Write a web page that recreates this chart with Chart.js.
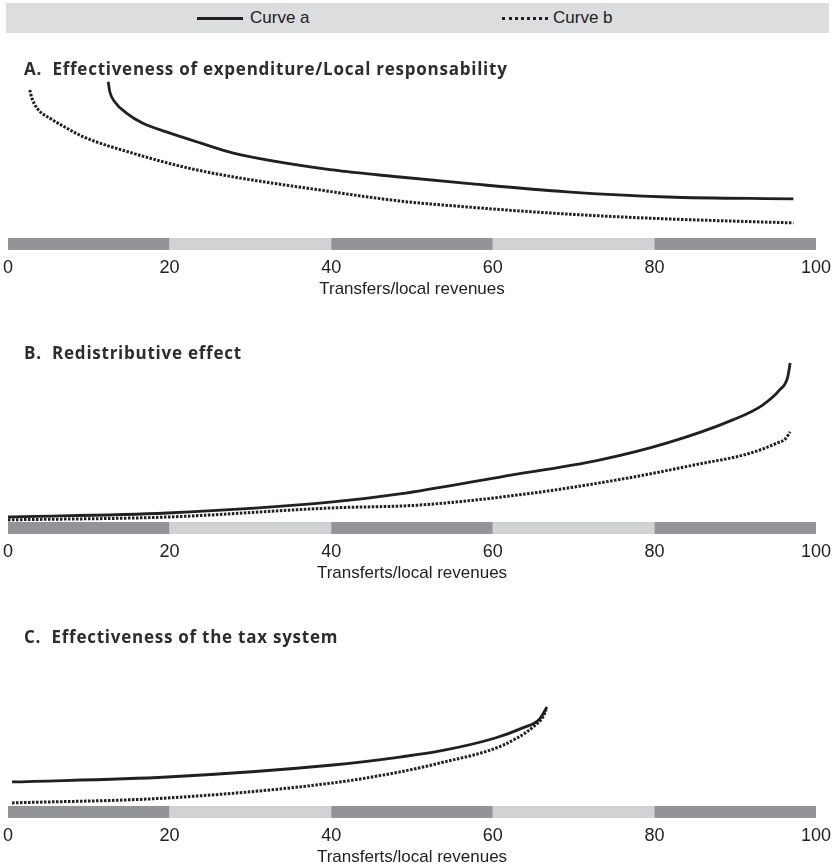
<!DOCTYPE html>
<html>
<head>
<meta charset="utf-8">
<script src="https://cdn.jsdelivr.net/npm/chart.js@4.4.1/dist/chart.umd.min.js"></script>
<style>
  body { margin: 0; background: #fff; width: 835px; height: 864px; overflow: hidden; position: relative; }
  #legend { position: absolute; left: 6px; top: 3px; width: 823px; height: 30px; background: #dcdddf; }
  .key { position: absolute; top: 14px; width: 46px; height: 0; }
  .lbl { position: absolute; top: 5px; font: 17px 'Liberation Sans Narrow', 'Liberation Sans', sans-serif; color: #222; }
  .panel { position: absolute; left: 0; width: 835px; height: 300px; }
  .ttl { position: absolute; left: 24px; top: 57px; font: bold 17px 'Open Sans', sans-serif; letter-spacing: 0.75px; color: #2d2d2d; white-space: pre; z-index: 2; }
  canvas { position: absolute; left: 0; top: 0; }
</style>
</head>
<body>
<div id="legend">
  <div class="key" style="left:191px;border-top:3px solid #231f20"></div>
  <div class="lbl" style="left:244px">Curve a</div>
  <div class="key" style="left:496px;border-top:3px dotted #231f20"></div>
  <div class="lbl" style="left:547px">Curve b</div>
</div>

<div class="panel" style="top:0px">
  <div class="ttl">A.  Effectiveness of expenditure/Local responsability</div>
  <canvas id="chartA" width="835" height="300"></canvas>
</div>
<div class="panel" style="top:284px">
  <div class="ttl">B.  Redistributive effect</div>
  <canvas id="chartB" width="835" height="300"></canvas>
</div>
<div class="panel" style="top:568px">
  <div class="ttl">C.  Effectiveness of the tax system</div>
  <canvas id="chartC" width="835" height="300"></canvas>
</div>

<script>
// axe horizontal commun
const xTicks = [0, 20, 40, 60, 80, 100];
const bandColors = ['#939497', '#d1d2d4', '#939497', '#d1d2d4', '#939497'];

// A. Effectiveness of expenditure
const aSolidX = [12.4, 12.6, 13.2, 14.7, 16.7, 19.6, 23.8, 27.9, 40.2, 48.5, 56.8, 69.2, 81.6, 97.2];
const aSolidY = [97.7, 91.4, 85.2, 77.9, 71.7, 66.3, 59.4, 53.1, 42.5, 38.1, 34.1, 28.8, 25.6, 24.4];
const aDotX = [2.7, 2.9, 3.6, 5.2, 7.3, 9.3, 15.5, 23.4, 40.2, 48.5, 56.8, 65.0, 73.3, 81.6, 97.2];
const aDotY = [92.5, 88.3, 81.1, 74.8, 68.6, 63.3, 52.9, 42.5, 28.8, 23.1, 19.4, 16.3, 13.8, 11.9, 9.4];

// B. Redistributive effect
const bSolidX = [0, 19.7, 40.2, 48.5, 60.9, 73.3, 81.6, 89.7, 93.4, 95.5, 96.5, 96.8];
const bSolidY = [3.1, 5.6, 12.5, 17.5, 28.1, 38.8, 49.4, 63.8, 73.1, 82.5, 90.6, 99.4];
const bDotX = [0, 19.7, 40.2, 51.0, 65.0, 77.4, 85.6, 90.6, 93.4, 95.2, 96.2, 96.8];
const bDotY = [1.3, 3.1, 8.8, 10.6, 18.1, 28.1, 36.3, 41.3, 45.6, 49.4, 51.9, 56.3];

// C. Effectiveness of the tax system
const cSolidX = [0.5, 19.7, 40.2, 48.5, 53.5, 60.3, 63.7, 65.8, 66.7];
const cSolidY = [15.0, 18.1, 25.6, 30.6, 34.4, 42.5, 48.8, 54.4, 61.9];
const cDotX = [0.5, 19.7, 40.2, 48.5, 53.5, 61.3, 65.0, 66.2, 66.6];
const cDotY = [1.9, 5.0, 14.4, 21.3, 26.9, 38.1, 49.4, 55.6, 60.0];

const tickFont = "'Liberation Sans Narrow', 'Liberation Sans', sans-serif";
const ink = '#231f20';

function toPoints(xs, ys) {
    return xs.map((x, i) => ({ x: x, y: ys[i] }));
}

// bande grise alternée sous les courbes
const bandPlugin = {
    id: 'bands',
    beforeDatasetsDraw(chart) {
        const { ctx, scales: { x, y } } = chart;
        const top = y.getPixelForValue(0);
        const bottom = y.getPixelForValue(y.min);
        ctx.save();
        for (let i = 0; i < xTicks.length - 1; i++) {
            const x0 = x.getPixelForValue(xTicks[i]);
            const x1 = x.getPixelForValue(xTicks[i + 1]);
            ctx.fillStyle = bandColors[i];
            ctx.fillRect(x0, top, x1 - x0, bottom - top);
        }
        ctx.restore();
    }
};

function makePanel(id, axisTitle, solid, dotted) {
    const ctx = document.getElementById(id).getContext('2d');
    new Chart(ctx, {
        type: 'line',
        data: {
            datasets: [
                {
                    label: 'Curve a',
                    data: solid,
                    borderColor: ink,
                    borderWidth: 2.8,
                    pointRadius: 0,
                    cubicInterpolationMode: 'monotone',
                    clip: false
                },
                {
                    label: 'Curve b',
                    data: dotted,
                    borderColor: ink,
                    borderWidth: 3,
                    borderDash: [2.5, 1.5],
                    pointRadius: 0,
                    cubicInterpolationMode: 'monotone',
                    clip: false
                }
            ]
        },
        options: {
            responsive: false,
            animation: false,
            layout: { padding: { left: 8, right: 19, top: 78, bottom: 0 } },
            plugins: {
                legend: { display: false },
                tooltip: { enabled: false }
            },
            scales: {
                x: {
                    type: 'linear',
                    min: 0,
                    max: 100,
                    afterBuildTicks: (axis) => { axis.ticks = xTicks.map(v => ({ value: v })); },
                    grid: { display: false, drawTicks: false },
                    border: { display: false },
                    ticks: { padding: 2, color: '#222', font: { family: tickFont, size: 18, lineHeight: 1.78 } },
                    title: {
                        display: true,
                        text: axisTitle,
                        color: '#222',
                        padding: { top: -6.4, bottom: 0 },
                        font: { family: tickFont, size: 17 }
                    }
                },
                y: {
                    display: false,
                    min: -7.5,
                    max: 100
                }
            }
        },
        plugins: [bandPlugin]
    });
}

makePanel('chartA', 'Transfers/local revenues', toPoints(aSolidX, aSolidY), toPoints(aDotX, aDotY));
makePanel('chartB', 'Transferts/local revenues', toPoints(bSolidX, bSolidY), toPoints(bDotX, bDotY));
makePanel('chartC', 'Transferts/local revenues', toPoints(cSolidX, cSolidY), toPoints(cDotX, cDotY));
</script>
</body>
</html>
